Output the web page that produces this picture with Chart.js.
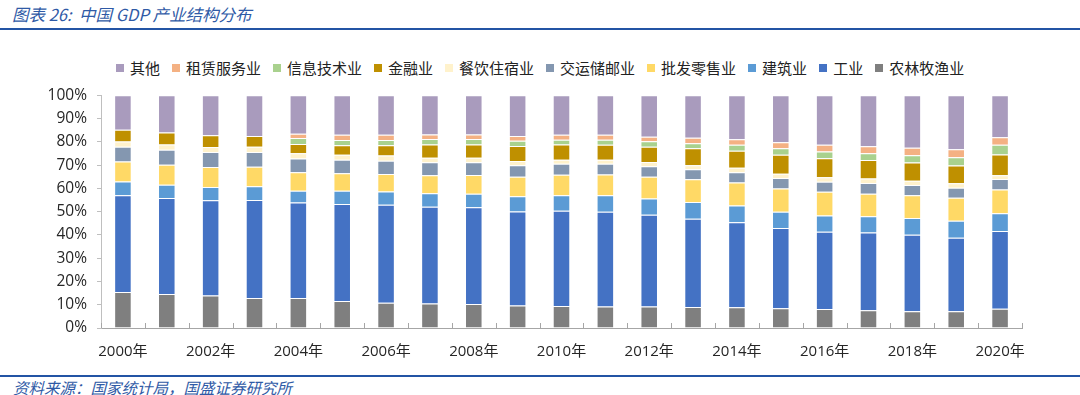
<!DOCTYPE html>
<html>
<head>
<meta charset="utf-8">
<script src="https://cdn.jsdelivr.net/npm/chart.js@4/dist/chart.umd.min.js"></script>
<style>
    html, body { margin: 0; padding: 0; background: #fff; }
    body { width: 1080px; height: 395px; position: relative; overflow: hidden; font-family: "Noto Sans CJK SC", sans-serif; }
    .title { position: absolute; left: 12px; top: 2px; font-size: 16.5px; font-style: italic; color: #2f5aa6; }
    .rule { position: absolute; left: 0; width: 1080px; height: 2px; background: #2354a4; }
    .legend { position: absolute; left: 116px; top: 57px; display: flex; align-items: center; font-size: 15px; color: #222; }
    .legend .item { display: flex; align-items: center; margin-right: 12px; }
    .legend .box { width: 8px; height: 8px; margin-right: 6px; }
    .source { position: absolute; left: 13px; top: 376px; font-size: 15.5px; font-style: italic; color: #2f5aa6; }
    #wrap { position: absolute; left: 0; top: 76px; width: 1080px; height: 289px; }
</style>
</head>
<body>
<div class="title">图表 26:&nbsp; 中国 GDP 产业结构分布</div>
<div class="rule" style="top:28px"></div>
<div class="legend" id="legend"></div>
<div id="wrap"><canvas id="gdpChart"></canvas></div>
<div class="rule" style="top:375px"></div>
<div class="source">资料来源：国家统计局，国盛证券研究所</div>

<script>
// Categories
const years = ['2000年', '2001年', '2002年', '2003年', '2004年', '2005年', '2006年', '2007年',
    '2008年', '2009年', '2010年', '2011年', '2012年', '2013年', '2014年', '2015年',
    '2016年', '2017年', '2018年', '2019年', '2020年'];

// Shares of GDP (%), bottom of the stack first
const agriculture = [15.5, 14.6, 14.0, 12.9, 12.9, 11.6, 10.9, 10.5, 10.3, 9.7, 9.5, 9.2, 9.2, 9.0, 8.9, 8.5, 8.2, 7.6, 7.2, 7.2, 8.3];
const industry = [41.5, 41.3, 40.9, 42.1, 41.0, 41.7, 42.1, 41.6, 41.6, 40.4, 40.9, 40.8, 39.5, 38.0, 36.5, 34.5, 33.2, 33.4, 32.9, 31.6, 33.4];
const construction = [6.0, 5.7, 5.7, 5.9, 5.1, 5.7, 5.7, 5.8, 5.8, 6.5, 6.6, 7.0, 6.9, 7.2, 7.2, 7.0, 6.9, 7.0, 7.2, 7.3, 7.6];
const trade = [8.5, 8.6, 8.6, 8.4, 7.9, 7.5, 7.5, 7.7, 8.1, 8.4, 8.9, 9.0, 9.4, 9.7, 9.9, 9.9, 10.2, 9.7, 9.7, 9.9, 10.2];
const transport = [6.4, 6.4, 6.4, 6.3, 5.9, 5.8, 5.7, 5.6, 5.4, 4.9, 4.7, 4.6, 4.5, 4.3, 4.4, 4.6, 4.4, 4.6, 4.5, 4.3, 4.5];
const catering = [2.2, 2.3, 2.2, 2.3, 2.3, 2.1, 2.2, 2.0, 2.0, 1.9, 1.7, 1.7, 1.8, 1.7, 2.0, 1.8, 1.9, 1.9, 1.8, 1.9, 1.6];
const finance = [5.1, 5.1, 5.0, 4.6, 4.0, 4.1, 4.4, 5.7, 5.7, 6.4, 6.6, 6.5, 6.6, 7.3, 7.3, 8.2, 8.1, 8.0, 7.8, 7.6, 9.0];
const infoTech = [0, 0, 0, 0, 2.6, 2.3, 2.3, 2.3, 2.3, 2.3, 2.0, 2.1, 2.3, 2.2, 2.5, 2.7, 2.9, 2.9, 3.1, 3.6, 4.1];
const leasing = [0, 0, 0, 0, 1.8, 2.2, 2.2, 2.0, 2.0, 2.0, 2.1, 2.2, 2.0, 2.4, 2.4, 2.6, 2.9, 3.0, 3.3, 3.4, 3.3];
const others = [14.8, 16.0, 17.2, 17.5, 16.5, 17.0, 17.0, 16.8, 16.8, 17.5, 17.0, 16.9, 17.8, 18.2, 18.9, 20.2, 21.3, 21.9, 22.5, 23.2, 18.0];

const yTicks = [0, 10, 20, 30, 40, 50, 60, 70, 80, 90, 100];

const series = [
    { label: '农林牧渔业', data: agriculture, color: '#7f7f7f' },
    { label: '工业', data: industry, color: '#4472c4' },
    { label: '建筑业', data: construction, color: '#5b9bd5' },
    { label: '批发零售业', data: trade, color: '#ffd966' },
    { label: '交运储邮业', data: transport, color: '#8497b0' },
    { label: '餐饮住宿业', data: catering, color: '#fff2cc' },
    { label: '金融业', data: finance, color: '#bf9000' },
    { label: '信息技术业', data: infoTech, color: '#a9d18e' },
    { label: '租赁服务业', data: leasing, color: '#f4b183' },
    { label: '其他', data: others, color: '#a99bbd' }
];

// Legend lists the top of the stack first
function buildLegend() {
    const legend = document.getElementById('legend');
    [...series].reverse().forEach(s => {
        const item = document.createElement('div');
        item.className = 'item';
        item.innerHTML = `<span class="box" style="background:${s.color}"></span><span>${s.label}</span>`;
        legend.appendChild(item);
    });
}

// Small upward tick marks between categories, like the original axis
const categoryTicks = {
    id: 'categoryTicks',
    afterDraw(chart) {
        const x = chart.scales.x;
        const ctx = chart.ctx;
        const step = (x.right - x.left) / years.length;
        ctx.save();
        ctx.strokeStyle = '#a6a6a6';
        ctx.lineWidth = 1;
        ctx.beginPath();
        for (let i = 0; i <= years.length; i++) {
            const px = Math.round(x.left + i * step) + 0.5;
            ctx.moveTo(px, x.top);
            ctx.lineTo(px, x.top - 5);
        }
        ctx.stroke();
        ctx.restore();
    }
};

function initChart() {
    const ctx = document.getElementById('gdpChart').getContext('2d');

    Chart.defaults.font.family = "'Open Sans', 'Noto Sans CJK SC', sans-serif";
    Chart.defaults.color = '#262626';

    new Chart(ctx, {
        type: 'bar',
        data: {
            labels: years,
            datasets: series.map(s => ({
                label: s.label,
                data: s.data,
                backgroundColor: s.color,
                borderColor: 'rgba(255, 255, 255, 0.55)',
                borderWidth: 1,
                categoryPercentage: 1,
                barPercentage: 0.4
            }))
        },
        options: {
            responsive: true,
            maintainAspectRatio: false,
            animation: false,
            layout: { padding: { top: 1, right: 58, bottom: 0, left: 0 } },
            plugins: {
                legend: { display: false },
                tooltip: { enabled: false }
            },
            scales: {
                x: {
                    stacked: true,
                    grid: { display: false },
                    border: { display: true, color: '#a6a6a6' },
                    ticks: {
                        autoSkip: false,
                        maxRotation: 0,
                        padding: 7,
                        font: { size: 15 },
                        callback: (val, i) => (i % 2 === 0 ? years[i] : '')
                    },
                    afterFit: scale => { scale.height = 37; }
                },
                y: {
                    stacked: true,
                    min: 0,
                    max: 100,
                    afterBuildTicks: scale => { scale.ticks = yTicks.map(v => ({ value: v })); },
                    grid: { drawOnChartArea: false, drawTicks: true, tickLength: 4, color: '#bfbfbf' },
                    border: { display: true, color: '#bfbfbf' },
                    ticks: {
                        padding: 10,
                        font: { size: 15.5 },
                        callback: v => v + '%'
                    },
                    afterFit: scale => { scale.width = 101; }
                }
            }
        },
        plugins: [categoryTicks]
    });
}

document.addEventListener('DOMContentLoaded', () => {
    buildLegend();
    initChart();
});
</script>
</body>
</html>
